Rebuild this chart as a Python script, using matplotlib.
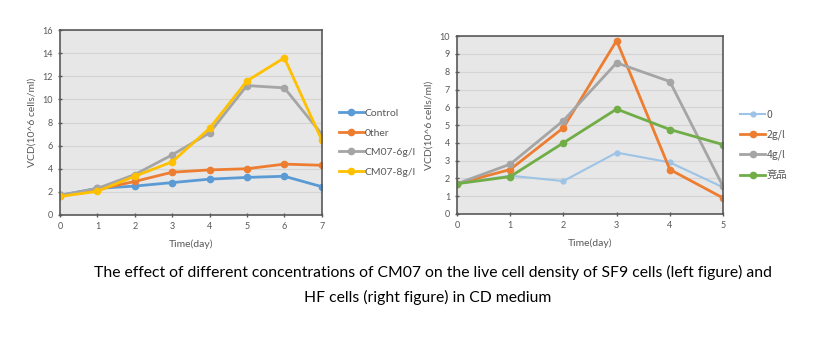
import matplotlib.pyplot as plt

plt.rcParams['font.family'] = ['Lato', 'Noto Sans CJK SC', 'DejaVu Sans']

# left chart: SF9 cells
days_l = [0, 1, 2, 3, 4, 5, 6, 7]
control = [1.7, 2.3, 2.5, 2.8, 3.1, 3.25, 3.35, 2.45]
other = [1.65, 2.2, 2.9, 3.7, 3.9, 4.0, 4.4, 4.3]
cm07_6 = [1.7, 2.3, 3.5, 5.2, 7.1, 11.2, 11.0, 7.0]
cm07_8 = [1.6, 2.05, 3.35, 4.6, 7.5, 11.6, 13.6, 6.5]

# right chart: HF cells
days_r = [0, 1, 2, 3, 4, 5]
c0 = [1.7, 2.15, 1.85, 3.45, 2.9, 1.5]
c2 = [1.7, 2.5, 4.85, 9.75, 2.5, 0.9]
c4 = [1.7, 2.8, 5.25, 8.5, 7.45, 1.55]
jingpin = [1.7, 2.1, 4.0, 5.9, 4.75, 3.9]

caption1 = "The effect of different concentrations of CM07 on the live cell density of SF9 cells (left figure) and"
caption2 = "HF cells (right figure) in CD medium"

fig = plt.figure(figsize=(8.27, 3.38), dpi=100)
axL = fig.add_axes([0.0726, 0.364, 0.3164, 0.547])
axR = fig.add_axes([0.5526, 0.367, 0.3217, 0.526])

def style(ax):
    ax.set_facecolor('#e7e7e7')
    for s in ax.spines.values():
        s.set_color('#595959')
        s.set_linewidth(1.2)
    ax.grid(axis='y', color='#d4d4d4', linewidth=0.8)
    ax.set_axisbelow(True)
    ax.tick_params(colors='#595959', labelsize=6.5, length=3, width=1, direction='inout')
    ax.set_xlabel('Time(day)', fontsize=7.5, color='#595959', labelpad=6)
    ax.set_ylabel('VCD(10^6 cells/ml)', fontsize=7.5, color='#595959', labelpad=4)

kw = dict(linewidth=2, marker='o', markersize=4.5)
axL.plot(days_l, control, color='#5b9bd5', label='Control', **kw)
axL.plot(days_l, other, color='#ed7d31', label='0ther', **kw)
axL.plot(days_l, cm07_6, color='#a5a5a5', label='CM07-6g/l', **kw)
axL.plot(days_l, cm07_8, color='#ffc000', label='CM07-8g/l', **kw)
axL.set_xlim(0, 7)
axL.set_ylim(0, 16)
axL.set_yticks(range(0, 17, 2))
style(axL)
axL.legend(loc='upper left', bbox_to_anchor=(1.03, 0.625), frameon=False,
           prop={'family': 'Lato', 'size': 7.5}, labelcolor='#595959', handlelength=2.4,
           handletextpad=0.1, labelspacing=0.98)

axR.plot(days_r, c0, color='#9dc3e6', label='0', linewidth=1.5, marker='o', markersize=3.5)
axR.plot(days_r, c2, color='#ed7d31', label='2g/l', **kw)
axR.plot(days_r, c4, color='#a5a5a5', label='4g/l', **kw)
axR.plot(days_r, jingpin, color='#70ad47', label='竞品', **kw)
axR.set_xlim(0, 5)
axR.set_ylim(0, 10)
axR.set_yticks(range(0, 11))
style(axR)
axR.legend(loc='upper left', bbox_to_anchor=(1.03, 0.64), frameon=False,
           prop={'family': 'Noto Sans CJK SC', 'size': 7.5}, labelcolor='#595959',
           handlelength=2.4, handletextpad=0.1, labelspacing=0.95)

fig.text(0.524, 1 - 272 / 338, caption1, ha='center', va='center', fontsize=11.3, color='black')
fig.text(0.517, 1 - 297 / 338, caption2, ha='center', va='center', fontsize=11.3, color='black')

fig.savefig('out.png', dpi=100)
